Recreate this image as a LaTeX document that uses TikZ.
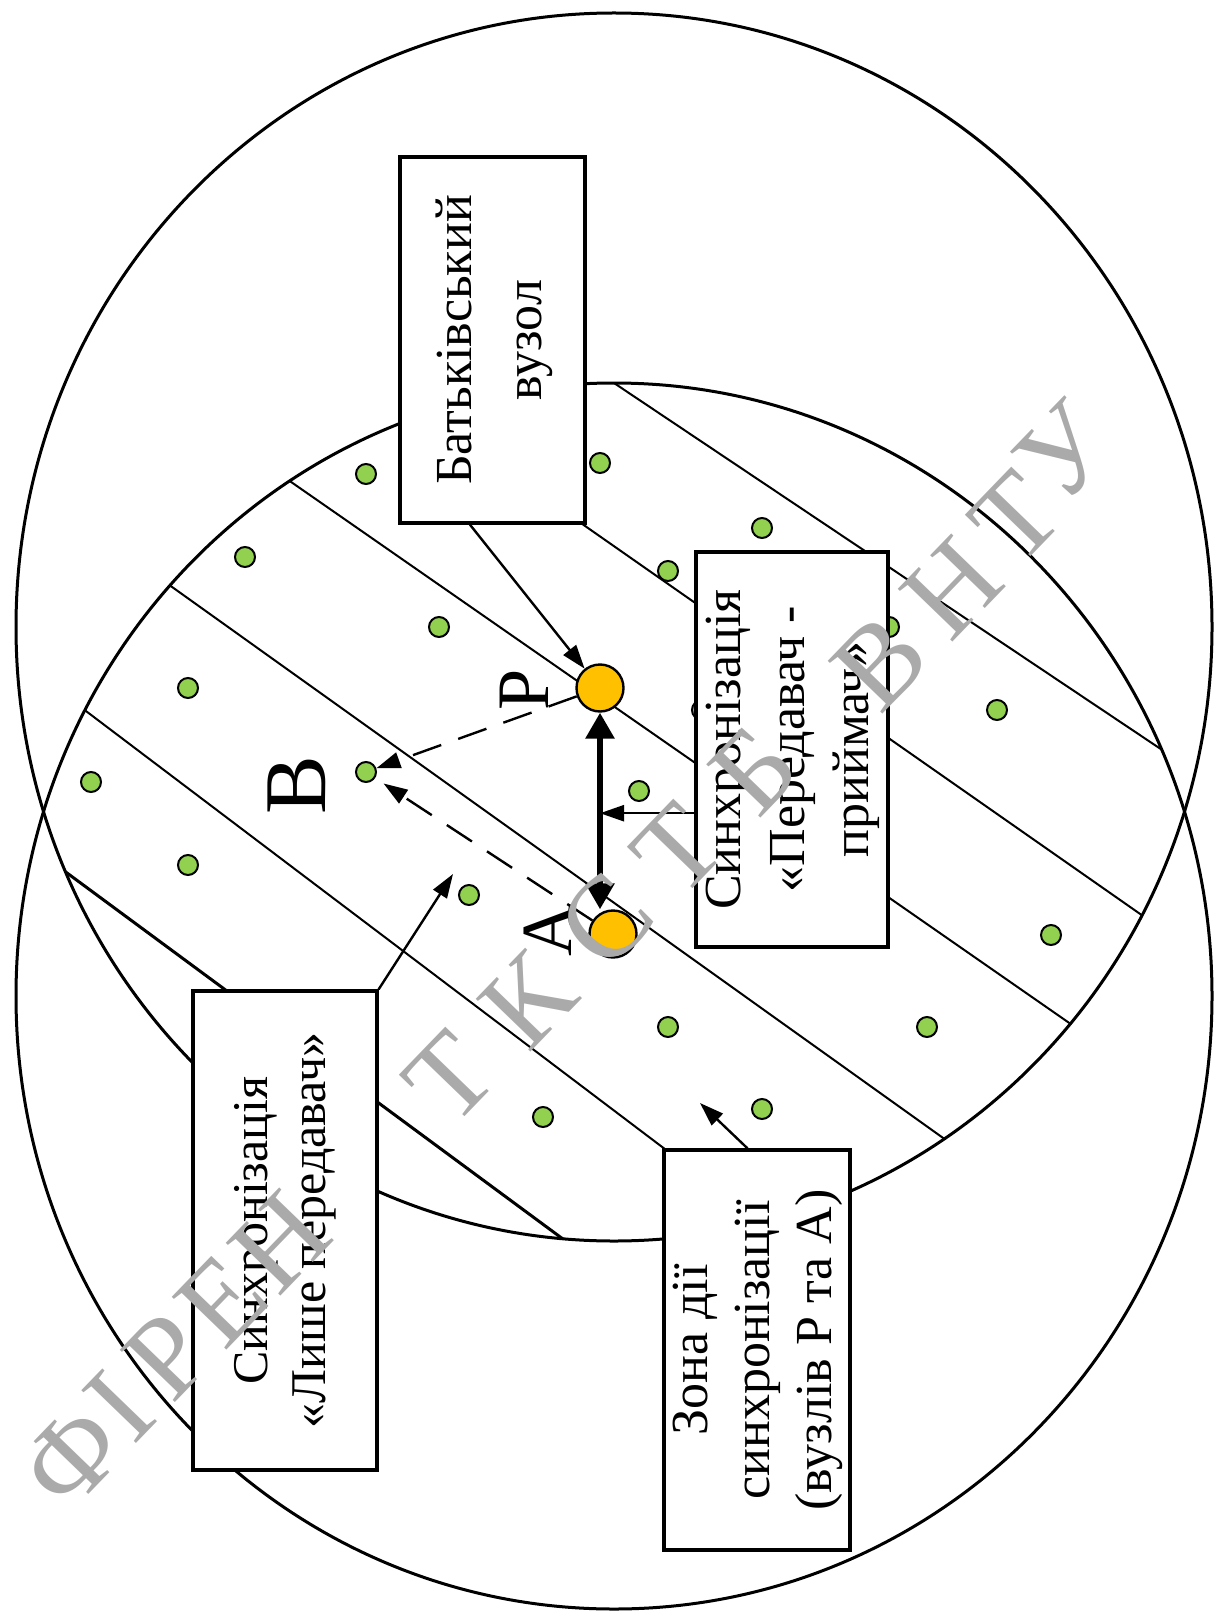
\documentclass[tikz,border=0pt]{standalone}
\usepackage{fontspec}
\setmainfont{Liberation Serif}
\usetikzlibrary{arrows.meta,calc}

\definecolor{dotgreen}{RGB}{146,208,80}
\definecolor{hubyellow}{RGB}{255,192,0}
\definecolor{wmgray}{RGB}{170,170,170}

\tikzset{
  zone/.style={line width=1.5pt},
  stripe/.style={line width=1pt},
  sensor/.style={circle,draw,line width=1pt,fill=dotgreen,minimum size=10pt,inner sep=0pt},
  hub/.style={circle,draw,line width=1.2pt,fill=hubyellow,minimum size=23.5pt,inner sep=0pt},
  infobox/.style={draw,line width=1.6pt,fill=white,inner sep=0pt,font=\fontsize{26}{32}\selectfont},
  arr/.style={line width=1.2pt,-{Triangle[length=12pt,width=8pt]}},
  dasharr/.style={arr,dash pattern=on 15pt off 9pt},
  syncarr/.style={line width=3pt,{Triangle[length=13pt,width=14pt]}-{Triangle[length=13pt,width=14pt]}},
  letter/.style={rotate=90,inner sep=0pt},
  wm/.style={text=wmgray,font=\fontsize{58}{58}\selectfont,rotate=46,inner sep=0pt}
}

\begin{document}
\begin{tikzpicture}[x=0.5pt,y=-0.5pt]
  \useasboundingbox (0,0) rectangle (1216,1615);

  %% two coverage zones
  \draw[zone] (614,627) ellipse [x radius=598, y radius=614];
  \draw[zone] (614,996) ellipse [x radius=598, y radius=613];

  %% stripes inside the common part
  \begin{scope}
    \clip (614,627) ellipse [x radius=598, y radius=614];
    \clip (614,996) ellipse [x radius=598, y radius=613];
    \draw[stripe] (0,-28) -- (1216,786);
    \draw[stripe] (0,117) -- (1216,967);
    \draw[stripe] (0,279.6) -- (1216,1125);
    \draw[stripe] (0,464) -- (1216,1333);
    \draw[stripe] (0,646) -- (1216,1566);
    \draw[zone] (0,823.5) -- (1216,1721);
  \end{scope}

  %% ordinary nodes
  \foreach \x/\y [count=\i] in {366/474, 600/463, 245/557, 762/528, 668/571,
      439/627, 889/627, 188/688, 997/710, 702/710, 91/782, 639/791,
      188/865, 469/895, 1051/935, 668/1027, 927/1027, 543/1117, 762/1109}
    \node[sensor] (s\i) at (\x,\y) {};
  \node[sensor] (B) at (366,772) {};

  %% text boxes
  \node[infobox, minimum width=92.5pt, minimum height=183pt] (batk) at (492.5,340)
    {\rotatebox{90}{\fontsize{26}{35}\selectfont\begin{tabular}{c}Батьківський\\вузол\end{tabular}}};
  \node[infobox, minimum width=93pt, minimum height=197.5pt] (sync) at (792,749.5)
    {\rotatebox{90}{\begin{tabular}{c}Синхронізація\\«Передавач -\\приймач»\end{tabular}}};
  \node[infobox, minimum width=92pt, minimum height=239.5pt] (lishe) at (285,1230.5)
    {\rotatebox{90}{\fontsize{25}{29}\selectfont\begin{tabular}{c}Синхронізація\\«Лише передавач»\end{tabular}}};
  \node[infobox, minimum width=93pt, minimum height=200pt] (zonebox) at (757,1350)
    {\rotatebox{90}{\fontsize{26}{31}\selectfont\begin{tabular}{c}Зона дії\\синхронізації\\(вузлів Р та А)\end{tabular}}};

  %% parent and neighbour
  \node[hub] (P) at (600,688) {};
  \node[hub] (A) at (613,934) {};
  \node[letter, font=\fontsize{37}{37}\selectfont] (labP) at (524,690) {Р};
  \node[letter, font=\fontsize{36}{36}\selectfont] (labA) at (548,930) {А};
  \node[letter, font=\fontsize{44}{44}\selectfont] (labB) at (297,785) {В};

  %% connectors
  \draw[arr] ($(batk.south west)!.38!(batk.south east)$) -- (P);
  \draw[syncarr] (P) -- (P |- A.north);
  \coordinate (synctail) at ($(sync.north west)!.66!(sync.south west)$);
  \draw[arr] (synctail) -- (synctail -| P);
  \draw[dasharr] (P) -- (B);
  \draw[dasharr, shorten >=5pt] (A) -- (B);
  \coordinate (lishetip) at (453,874);
  \draw[arr] (lishe.north east) -- (lishetip);
  \coordinate (zonetip) at (700,1103);
  \draw[arr] ($(zonebox.north west)!.45!(zonebox.north east)$) -- (zonetip);

  %% stamp
  \foreach \x/\y/\c [count=\i] in {72/1457/Ф, 120/1406/І, 168/1356/Р, 222/1301/Е,
      280/1242/Н, 450/1078/Т, 528/1000/К, 606/920/С, 678/850/Т, 754/770/Б,
      880/662/В, 952/588/Н, 1016/518/Т, 1064/452/У}
    \node[wm] (wm\i) at (\x,\y) {\c};
\end{tikzpicture}
\end{document}
